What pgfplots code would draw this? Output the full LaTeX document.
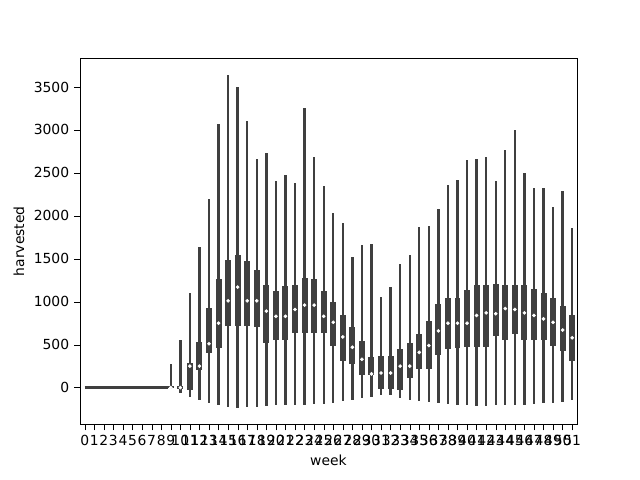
\documentclass[border=0pt]{standalone}
\usepackage{pgfplots}
\usepackage{pgfplotstable}
\pgfplotsset{compat=1.18}
\usetikzlibrary{calc}
\usepackage{fontspec}
\setmainfont{DejaVu Sans}
\definecolor{vc}{HTML}{3F3F3F}
\pgfplotstableread{
x hi q3 med q1 lo
9 280 20 0 0 -20
10 560 20 0 -20 -60
11 1100 290 250 -30 -110
12 1640 530 250 200 -150
13 2190 930 510 400 -180
14 3070 1260 750 460 -200
15 3640 1480 1010 720 -230
16 3500 1540 1170 720 -240
17 3100 1470 1010 720 -230
18 2660 1370 1010 700 -230
19 2730 1200 890 520 -210
20 2400 1120 830 560 -200
21 2480 1180 830 560 -200
22 2380 1200 910 640 -200
23 3260 1280 960 640 -200
24 2690 1270 960 640 -190
25 2350 1120 830 630 -190
26 2030 1000 760 480 -180
27 1920 850 590 310 -160
28 1520 700 470 280 -140
29 1660 540 330 150 -120
30 1670 360 160 150 -110
31 1050 370 170 -20 -90
32 1170 370 170 -20 -90
33 1440 450 250 -30 -120
34 1540 520 250 110 -140
35 1870 620 410 220 -160
36 1880 780 490 220 -170
37 2080 970 660 380 -180
38 2360 1040 750 450 -190
39 2420 1040 750 460 -200
40 2650 1140 750 470 -200
41 2660 1190 840 470 -210
42 2680 1200 870 470 -210
43 2400 1210 860 600 -200
44 2770 1200 920 560 -200
45 3000 1200 910 620 -200
46 2500 1200 870 560 -200
47 2320 1150 840 560 -190
48 2320 1100 800 560 -180
49 2100 1040 760 490 -180
50 2290 950 670 430 -170
51 1860 850 580 310 -150
}\data
\begin{document}
\begin{tikzpicture}
\begin{axis}[
  scale only axis, width=358pt, height=264pt,
  xmin=-0.5, xmax=51.5, ymin=-430, ymax=3837,
  xtick={0,...,51}, ytick={0,500,...,3500},
  xlabel={week}, ylabel={harvested},
  tick align=outside, tick style={black},
  xtick pos=bottom, ytick pos=left,
  /pgf/number format/assume math mode=true,
  scaled y ticks=false, yticklabel style={/pgf/number format/1000 sep={}},
  axis line style={black},
]
\addplot[vc, line width=1.7pt] coordinates {(0,0) (8.7,0)};
\addplot[draw=none, mark=none, error bars/.cd, y dir=both, y explicit,
  error mark=none, error bar style={vc, line width=1.7pt}]
  table[x=x, y=med, y error plus expr=\thisrow{hi}-\thisrow{med}, y error minus expr=\thisrow{med}-\thisrow{lo}] {\data};
\addplot[draw=none, mark=none, error bars/.cd, y dir=both, y explicit,
  error mark=none, error bar style={vc, line width=4.3pt}]
  table[x=x, y=med, y error plus expr=\thisrow{q3}-\thisrow{med}, y error minus expr=\thisrow{med}-\thisrow{q1}] {\data};
\addplot[only marks, mark=*, mark size=1.1pt, mark options={fill=white, draw=white}]
  table[x=x, y=med] {\data};
\end{axis}
\path ($(current axis.south west)+(-57.6pt,-39.6pt)$) rectangle ($(current axis.north east)+(45.4pt,41.8pt)$);
\end{tikzpicture}
\end{document}
